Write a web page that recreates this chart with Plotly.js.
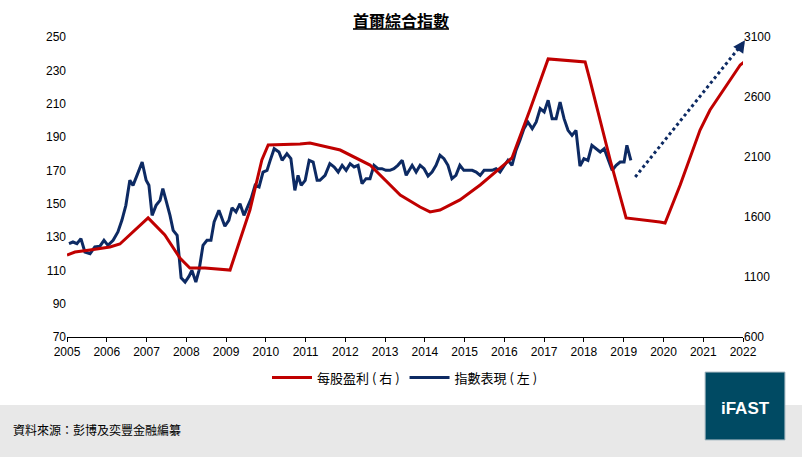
<!DOCTYPE html>
<html>
<head>
<meta charset="utf-8">
<script src="https://cdn.plot.ly/plotly-3.0.1.min.js"></script>
<style>html,body{margin:0;padding:0;background:#fff}#chart{width:802px;height:457px}</style>
</head>
<body>
<div id="chart"></div>
<script>
// 指數表現 (left axis)
const indexYears = [2005.05,2005.15,2005.25,2005.35,2005.45,2005.58,2005.70,2005.83,2005.93,2006.03,2006.16,2006.28,2006.38,2006.48,2006.58,2006.66,2006.76,2006.89,2006.99,2007.06,2007.14,2007.24,2007.34,2007.41,2007.49,2007.59,2007.67,2007.77,2007.87,2007.97,2008.07,2008.14,2008.24,2008.32,2008.42,2008.52,2008.62,2008.70,2008.82,2008.87,2008.97,2009.07,2009.15,2009.25,2009.35,2009.45,2009.55,2009.63,2009.73,2009.83,2009.93,2010.03,2010.11,2010.21,2010.33,2010.41,2010.53,2010.63,2010.73,2010.81,2010.89,2010.99,2011.09,2011.19,2011.29,2011.36,2011.49,2011.61,2011.72,2011.82,2011.92,2012.02,2012.12,2012.22,2012.32,2012.42,2012.52,2012.62,2012.72,2012.82,2012.92,2013.02,2013.12,2013.22,2013.32,2013.43,2013.53,2013.60,2013.68,2013.78,2013.88,2013.98,2014.08,2014.18,2014.28,2014.38,2014.48,2014.58,2014.68,2014.78,2014.88,2014.98,2015.09,2015.19,2015.29,2015.39,2015.49,2015.59,2015.69,2015.79,2015.89,2015.99,2016.09,2016.19,2016.29,2016.39,2016.49,2016.59,2016.70,2016.80,2016.90,2017.00,2017.10,2017.20,2017.30,2017.40,2017.50,2017.60,2017.70,2017.80,2017.90,2018.00,2018.10,2018.20,2018.30,2018.41,2018.51,2018.61,2018.71,2018.81,2018.91,2019.01,2019.08,2019.18];
const indexValues = [126,127,126,129,121,120,124,124.5,128,125,128,133,140,149,164,161,167,175,164,161,143,149,152,159,152,143,134,131,105.5,103,106.5,110,103,110,125,128,128,139,146,143,136.5,140,147.5,145,150,143,149,153,161,160,169,170,176,183,181,176,180,177,158,167,161,164,176,175,164,164,167,174,172,169,173,170,174,172,173,162,165,165,173,171,171,170,170,171,173,176,167,170,173,169,173,171,166.6,169,173,179,177,173,165,167,173,170,170,170,169,167,170,170,170,171,169,172.6,176,173,182,188,195,199,195,199,207,205,212,201,201,211,201,194,191,194,172.6,177,176,185,183,181,183,176,170,173,175,175,185,176];

// 每股盈利 (right axis)
const epsYears = [2005.0,2005.2,2005.58,2006.08,2006.33,2006.58,2007.04,2007.46,2007.84,2008.09,2008.47,2009.1,2009.6,2009.9,2010.06,2010.86,2011.11,2011.87,2012.62,2013.38,2013.88,2014.13,2014.38,2014.88,2015.39,2015.89,2016.19,2016.64,2017.10,2018.03,2018.15,2018.66,2019.06,2019.91,2020.04,2020.42,2020.92,2021.17,2021.93,2022.1];
const epsValues = [1283,1308,1325,1350,1375,1450,1592,1450,1258,1175,1175,1158,1658,2075,2200,2208,2217,2158,2033,1783,1683,1642,1658,1742,1867,2008,2092,2492,2917,2892,2742,2075,1592,1558,1550,1867,2325,2492,2867,2908];

// 預測箭頭 (left axis)
const arrowYears = [2019.29, 2022.05];
const arrowValues = [166, 248];

const yearTicks = [2005,2006,2007,2008,2009,2010,2011,2012,2013,2014,2015,2016,2017,2018,2019,2020,2021,2022];
const leftTicks = [70,90,110,130,150,170,190,210,230,250];
const rightTicks = [600,1100,1600,2100,2600,3100];

const traces = [
  {x: epsYears, y: epsValues, yaxis: 'y2', type: 'scatter', mode: 'lines',
   name: '每股盈利 ( 右 )', line: {color: '#c00000', width: 3}},
  {x: indexYears, y: indexValues, type: 'scatter', mode: 'lines',
   name: '指數表現 ( 左 )', line: {color: '#0d2a63', width: 3}},
  {x: arrowYears, y: arrowValues, type: 'scatter', mode: 'lines', showlegend: false,
   line: {color: '#0d2a63', width: 3, dash: 'dot'}, hoverinfo: 'skip'}
];

const layout = {
  width: 802, height: 457,
  margin: {l: 67, r: 59, t: 37, b: 120},
  paper_bgcolor: '#fff', plot_bgcolor: '#fff',
  font: {family: 'Liberation Sans, Arial, sans-serif', size: 12, color: '#000'},
  title: {text: '<b><u>首爾綜合指數</u></b>', x: 0.5, xanchor: 'center', y: 0.965,
          font: {family: 'Noto Sans CJK TC', size: 16, color: '#000'}},
  showlegend: true,
  legend: {orientation: 'h', x: 0.5, xanchor: 'center', y: -0.135, yanchor: 'middle',
           font: {family: 'Noto Sans CJK TC', size: 13}, itemwidth: 40, traceorder: 'normal'},
  xaxis: {range: [2005, 2022], tickvals: yearTicks, ticktext: yearTicks.map(String),
          showgrid: false, zeroline: false, showline: true, linecolor: '#000', linewidth: 1,
          ticks: 'outside', ticklen: 4, tickcolor: '#000'},
  yaxis: {range: [70, 250], tickvals: leftTicks, showgrid: false, zeroline: false, showline: false},
  yaxis2: {range: [600, 3100], tickvals: rightTicks, overlaying: 'y', side: 'right',
           showgrid: false, zeroline: false, showline: false},
  shapes: [
    {type: 'rect', xref: 'paper', yref: 'paper', x0: -0.1, x1: 1.1, y0: -0.4, y1: -0.227,
     fillcolor: '#e8e8e8', line: {width: 0}, layer: 'below'},
    {type: 'rect', xref: 'paper', yref: 'paper', x0: 0.944, x1: 1.062, y0: -0.343, y1: -0.117,
     fillcolor: '#004a63', line: {color: '#9fb3bd', width: 1},
     label: {text: '<b>iFAST</b>', textposition: 'middle center',
             font: {family: 'Liberation Sans, Arial', size: 17, color: '#fff'}}}
  ],
  annotations: [
    {x: arrowYears[1], y: arrowValues[1], ax: 2021.85, ay: 241, xref: 'x', yref: 'y',
     axref: 'x', ayref: 'y', text: '', showarrow: true, arrowhead: 2, arrowsize: 0.8,
     arrowwidth: 3, arrowcolor: '#0d2a63'},
    {x: -0.083, y: -0.343, xref: 'paper', yref: 'paper', xanchor: 'left', text: '資料來源：彭博及奕豐金融編纂',
     showarrow: false, font: {family: 'Noto Sans CJK TC', size: 12, color: '#000'}}
  ]
};

Plotly.newPlot('chart', traces, layout, {displayModeBar: false, staticPlot: true});
</script>
</body>
</html>
